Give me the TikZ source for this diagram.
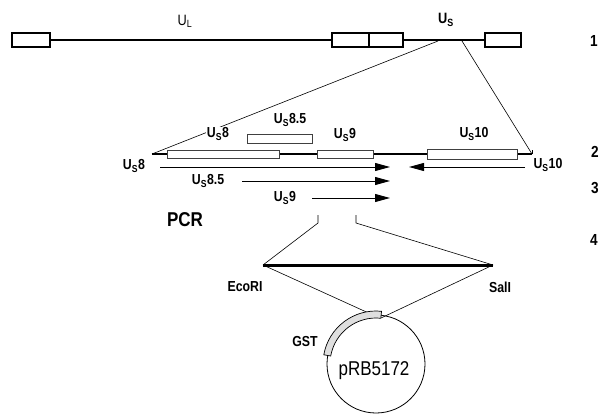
\documentclass[tikz,border=0pt]{standalone}
\usepackage{fontspec}
\setmainfont{Liberation Sans}[FakeStretch=0.85]
\usetikzlibrary{arrows.meta}
\begin{document}
\begin{tikzpicture}[x=1pt,y=-1pt,
  lbl/.style={font=\fontsize{14.5}{16}\selectfont\bfseries, inner sep=1pt},
  num/.style={font=\fontsize{16}{18}\selectfont\bfseries, inner sep=0pt},
  exon/.style={draw, line width=1.8pt, fill=white, inner sep=0pt, minimum height=14pt},
  gbox/.style={draw=black!75, line width=0.8pt, fill=white, inner sep=0pt, minimum height=8pt},
  genome/.style={line width=1.8pt},
  zoomline/.style={line width=0.6pt},
  primer/.style={line width=0.9pt, -{Triangle[length=15pt,width=8pt]}},
  insert/.style={line width=3pt}
]
\useasboundingbox (0,0) rectangle (600,415);

% row 1: genome
\node[exon, minimum width=38pt] (e1) at (31,40) {};
\node[exon, minimum width=71pt] (e2) at (367.5,40) {};
\node[exon, minimum width=36pt] (e3) at (503,40) {};
\coordinate (e2t) at (369,33);
\coordinate (e2b) at (369,47);
\draw[line width=1.5pt] (e2t) -- (e2b);
\draw[genome] (e1.east) -- (e2.west);
\draw[genome] (e2.east) -- (e3.west);
\node[font=\fontsize{15}{16}\selectfont, inner sep=1pt] (UL) at (185,21) {U\textsubscript{L}};
\node[lbl, font=\fontsize{15}{16}\selectfont\bfseries] (US) at (446,20) {U\textsubscript{S}};
\node[num] (n1) at (594,41) {1};

% zoom lines
\coordinate (zl) at (438,41);
\coordinate (zr) at (462,41);
\coordinate (g2l) at (152,154);
\coordinate (g2r) at (532,154);
\draw[zoomline] (zl) -- (g2l);
\draw[zoomline] (zr) -- (g2r);

% row 2: genes
\draw[line width=2.2pt] (g2l) -- (g2r);
\coordinate (g2rt) at (532,150);
\draw[line width=1pt] (g2rt) -- (g2r);
\node[gbox, minimum width=112pt] (b8) at (223,154) {};
\node[gbox, minimum width=65pt, minimum height=9pt] (b85) at (279.5,138.5) {};
\node[gbox, minimum width=56pt] (b9) at (345,154) {};
\node[gbox, minimum width=90pt, minimum height=10pt] (b10) at (472,154) {};
\node[lbl, fill=white] (l8) at (218,134) {U\textsubscript{S}8};
\node[lbl] (l85) at (290,120) {U\textsubscript{S}8.5};
\node[lbl] (l9) at (345,135) {U\textsubscript{S}9};
\node[lbl] (l10) at (474,134) {U\textsubscript{S}10};
\node[num] (n2) at (595,152) {2};

% row 3: primers
\coordinate (a1s) at (160,167);
\coordinate (a1e) at (390,167);
\coordinate (a2s) at (242,181);
\coordinate (a2e) at (390,181);
\coordinate (a3s) at (312,198);
\coordinate (a3e) at (390,198);
\coordinate (a4s) at (525,167);
\coordinate (a4e) at (409,167);
\draw[primer] (a1s) -- (a1e);
\draw[primer] (a2s) -- (a2e);
\draw[primer] (a3s) -- (a3e);
\draw[primer] (a4s) -- (a4e);
\node[lbl] (p8) at (134,166) {U\textsubscript{S}8};
\node[lbl] (p85) at (208,181) {U\textsubscript{S}8.5};
\node[lbl] (p9) at (285,198) {U\textsubscript{S}9};
\node[lbl] (p10) at (548,165) {U\textsubscript{S}10};
\node[num] (n3) at (595,188) {3};
\node[font=\fontsize{20}{22}\selectfont\bfseries, inner sep=0pt] (pcr) at (185,220) {PCR};

% row 4: insert
\coordinate (bl1) at (318,215);
\coordinate (bl2) at (318,223);
\coordinate (br1) at (356,215);
\coordinate (br2) at (356,223);
\coordinate (insl) at (263,265);
\coordinate (insr) at (493,265);
\draw[zoomline] (bl1) -- (bl2) -- (insl);
\draw[zoomline] (br1) -- (br2) -- (insr);
\draw[insert] (insl) -- (insr);
\node[lbl] (eco) at (245,287) {EcoRI};
\node[lbl] (sal) at (500,287) {SalI};
\node[num] (n4) at (594,240) {4};

% plasmid
\node[draw, circle, line width=0.8pt, minimum size=98pt, inner sep=0pt] (plasmid) at (376,364) {};
\coordinate (pl) at (373,315);
\coordinate (pr) at (381,318);
\draw[zoomline] (insl) -- (pl);
\draw[zoomline] (insr) -- (pr);
\begin{scope}[shift={(376,364)}, y=1pt]
  \draw[fill=gray!25, line width=0.7pt] (84:46) arc[start angle=84, end angle=170, radius=46]
     -- (170:53) arc[start angle=170, end angle=84, radius=53] -- cycle;
\end{scope}
\node[lbl] (gst) at (305,342) {GST};
\node[font=\fontsize{20}{22}\selectfont, inner sep=0pt] (prb) at (374,371) {pRB5172};
\end{tikzpicture}
\end{document}
